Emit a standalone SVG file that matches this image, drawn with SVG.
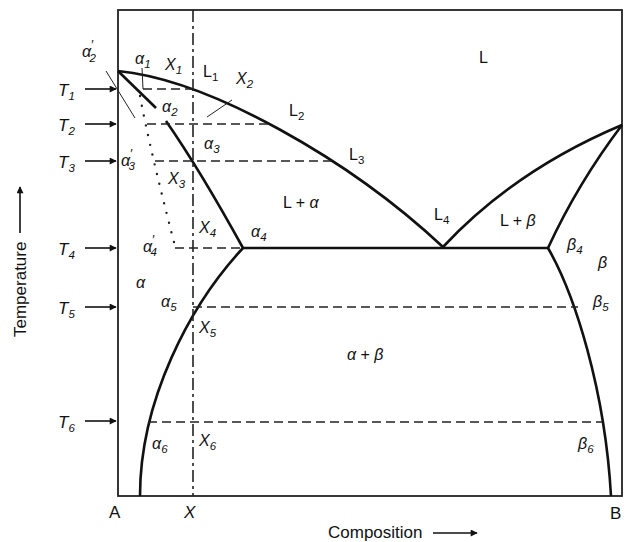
<svg xmlns="http://www.w3.org/2000/svg" width="625" height="542" viewBox="0 0 625 542">
<defs>
<marker id="ah" viewBox="0 0 10 10" refX="9" refY="5" markerWidth="9" markerHeight="7" markerUnits="userSpaceOnUse" orient="auto"><path d="M0,0 L10,5 L0,10 z" fill="#111"/></marker>
<style>
.frame{fill:none;stroke:#222;stroke-width:1.8}
.phase{fill:none;stroke:#111;stroke-width:2.6;stroke-linejoin:round}
.tie{fill:none;stroke:#222;stroke-width:1.6;stroke-dasharray:9,5}
.xl{fill:none;stroke:#222;stroke-width:1.6;stroke-dasharray:12,4,3,4}
.dot{fill:none;stroke:#222;stroke-width:2.4;stroke-linecap:round;stroke-dasharray:0,10}
.thin{fill:none;stroke:#222;stroke-width:1}
.arr{fill:none;stroke:#111;stroke-width:1.6}
text{font-family:"Liberation Sans",Arial,sans-serif;font-size:16px;fill:#111}
.it{font-style:italic}
.tl{font-style:italic;font-size:17px}
.ax{font-size:17px}
.s{font-size:11.5px}
.p{font-size:13px;font-style:normal}
</style>
</defs>
<g id="frame"><rect class="frame" x="118" y="10" width="504" height="486"/></g>
<g id="connectors">
<path class="phase" d="M118,71 C210,80 350,160 443,247"/>
<path class="phase" d="M443,247 Q515,170 622,125"/>
<path class="phase" d="M622,125 Q578,183 548,248"/>
<path class="phase" d="M118,71 L156,108"/>
<path class="phase" d="M166,121 Q200,170 243,248"/>
<path class="phase" d="M243,248 L548,248"/>
<path class="phase" d="M243,248 C190,305 140,400 140,496"/>
<path class="phase" d="M548,248 C575,295 605,390 611,496"/>
<path class="xl" d="M193,10 L193,496"/>
<path class="tie" d="M143,89 L193,89"/>
<path class="tie" d="M147,124 L270,124"/>
<path class="tie" d="M155,161 L332,161"/>
<path class="tie" d="M175,248 L243,248"/>
<path class="tie" d="M193,307 L578,307"/>
<path class="tie" d="M148,422 L602,422"/>
<path class="dot" d="M140,96 Q150,150 175,246"/>
<path class="thin" d="M106,71 L135,118"/>
<path class="thin" d="M142,68 L143,89"/>
<path class="thin" d="M207,117 L232,100"/>
<path class="arr" d="M85,89 L116,89" marker-end="url(#ah)"/>
<path class="arr" d="M85,124 L116,124" marker-end="url(#ah)"/>
<path class="arr" d="M85,161 L116,161" marker-end="url(#ah)"/>
<path class="arr" d="M85,248 L116,248" marker-end="url(#ah)"/>
<path class="arr" d="M85,307 L116,307" marker-end="url(#ah)"/>
<path class="arr" d="M85,421 L116,421" marker-end="url(#ah)"/>
<path class="arr" d="M20,233 L20,187" marker-end="url(#ah)"/>
<path class="arr" d="M433,533 L477,533" marker-end="url(#ah)"/>
</g>
<g id="labels">
<text class="tl" x="58" y="96">T<tspan class="s" dy="4">1</tspan></text>
<text class="tl" x="58" y="131">T<tspan class="s" dy="4">2</tspan></text>
<text class="tl" x="58" y="168">T<tspan class="s" dy="4">3</tspan></text>
<text class="tl" x="58" y="255">T<tspan class="s" dy="4">4</tspan></text>
<text class="tl" x="58" y="314">T<tspan class="s" dy="4">5</tspan></text>
<text class="tl" x="58" y="428">T<tspan class="s" dy="4">6</tspan></text>
<text class="ax" transform="translate(26,337) rotate(-90)">Temperature</text>
<text class="ax" x="328" y="538">Composition</text>
<text class="ax" x="109" y="518">A</text>
<text class="ax it" x="184" y="518">X</text>
<text class="ax" x="610" y="519">B</text>
<text class="it" x="82" y="57">α<tspan class="p" dy="-8">′</tspan><tspan class="s" dx="-4" dy="13">2</tspan></text>
<text class="it" x="135" y="64">α<tspan class="s" dy="4">1</tspan></text>
<text class="it" x="165" y="70">X<tspan class="s" dy="4">1</tspan></text>
<text x="203" y="77">L<tspan class="s" dy="4">1</tspan></text>
<text class="it" x="236" y="84">X<tspan class="s" dy="4">2</tspan></text>
<text class="it" x="162" y="112">α<tspan class="s" dy="4">2</tspan></text>
<text x="289" y="116">L<tspan class="s" dy="4">2</tspan></text>
<text class="it" x="204" y="149">α<tspan class="s" dy="4">3</tspan></text>
<text x="349" y="160">L<tspan class="s" dy="4">3</tspan></text>
<text class="it" x="121" y="166">α<tspan class="p" dy="-8">′</tspan><tspan class="s" dx="-4" dy="12">3</tspan></text>
<text class="it" x="168" y="184">X<tspan class="s" dy="4">3</tspan></text>
<text x="283" y="208">L + <tspan class="it">α</tspan></text>
<text x="434" y="220">L<tspan class="s" dy="4">4</tspan></text>
<text x="500" y="226">L + <tspan class="it">β</tspan></text>
<text class="it" x="199" y="233">X<tspan class="s" dy="4">4</tspan></text>
<text class="it" x="143" y="252">α<tspan class="p" dy="-8">′</tspan><tspan class="s" dx="-4" dy="12">4</tspan></text>
<text class="it" x="251" y="237">α<tspan class="s" dy="4">4</tspan></text>
<text class="it" x="567" y="250">β<tspan class="s" dy="4">4</tspan></text>
<text class="it" x="598" y="268">β</text>
<text class="it" x="136" y="288">α</text>
<text class="it" x="161" y="307">α<tspan class="s" dy="4">5</tspan></text>
<text class="it" x="593" y="307">β<tspan class="s" dy="4">5</tspan></text>
<text class="it" x="199" y="333">X<tspan class="s" dy="4">5</tspan></text>
<text x="347" y="360"><tspan class="it">α</tspan> + <tspan class="it">β</tspan></text>
<text class="it" x="152" y="449">α<tspan class="s" dy="4">6</tspan></text>
<text class="it" x="199" y="446">X<tspan class="s" dy="4">6</tspan></text>
<text class="it" x="578" y="449">β<tspan class="s" dy="4">6</tspan></text>
<text x="479" y="63">L</text>
</g>
</svg>
